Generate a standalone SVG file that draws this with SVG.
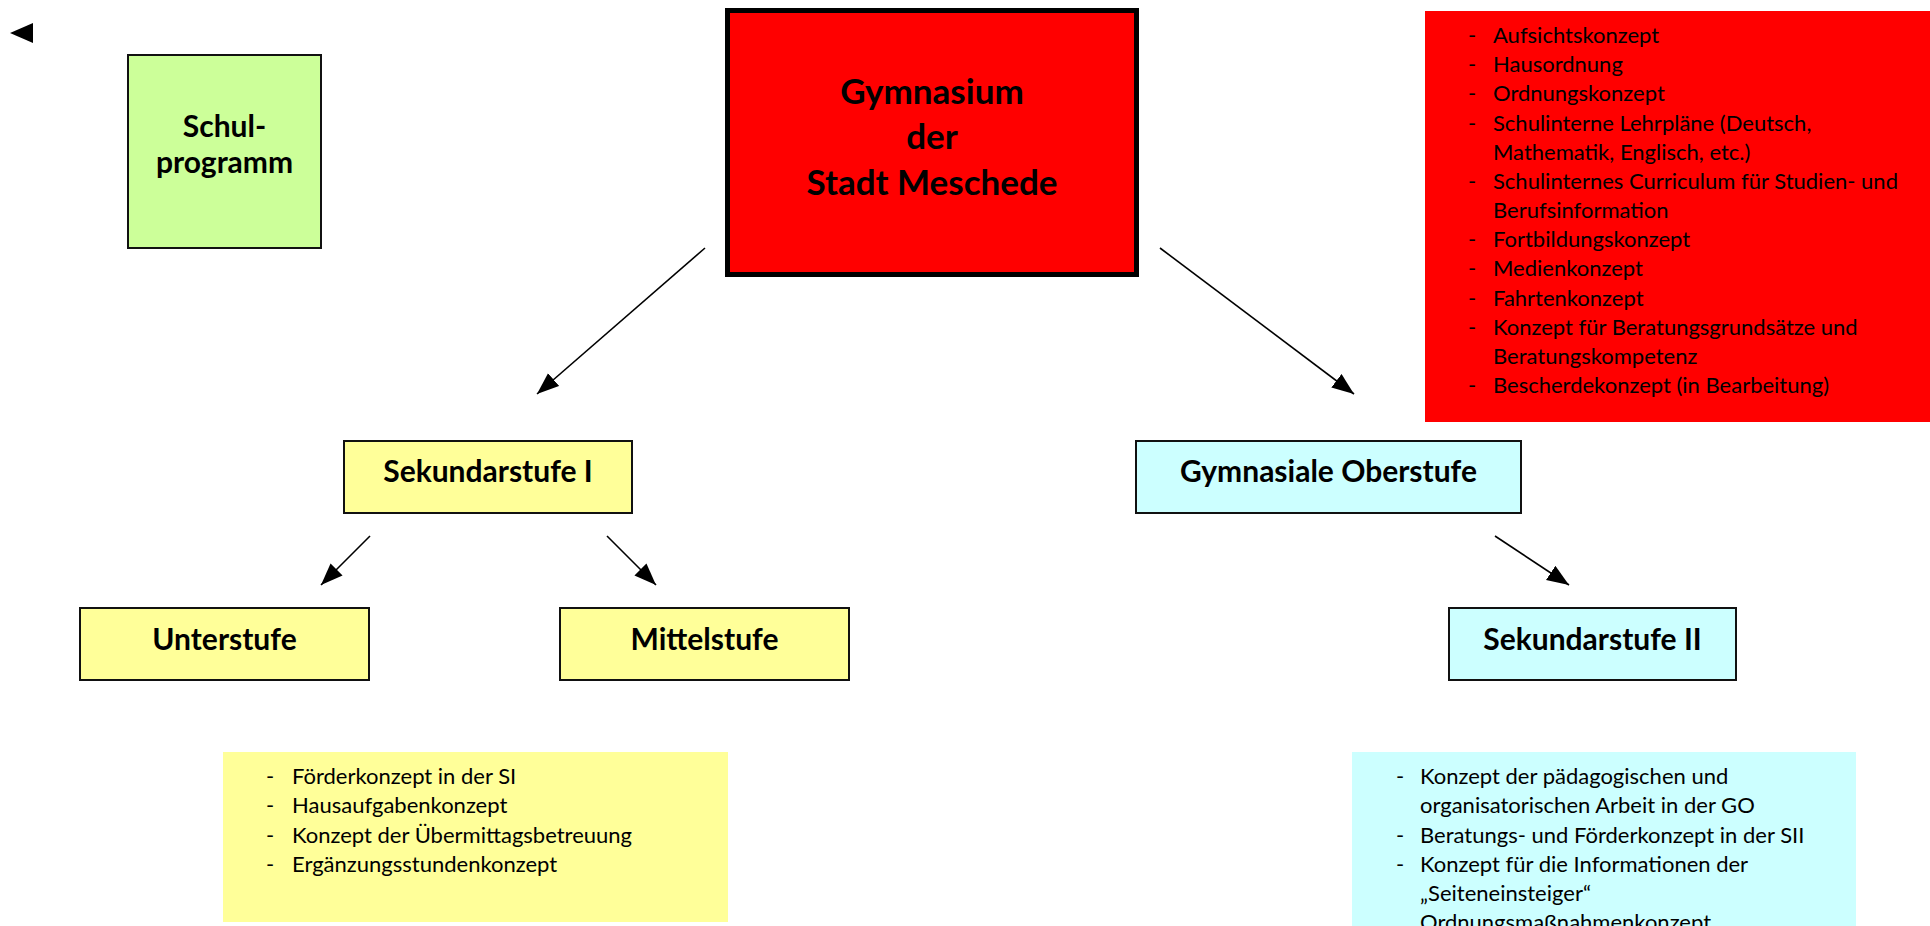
<svg xmlns="http://www.w3.org/2000/svg" width="1930" height="926" viewBox="0 0 1930 926">
<style>
.node{stroke:#111;stroke-width:2}
.b{font-family:Lato,"Liberation Sans",sans-serif;font-weight:bold;fill:#000;text-anchor:middle}
.l{font-family:Lato,"Liberation Sans",sans-serif;font-size:22px;fill:#000}
.conn{stroke:#000;stroke-width:1.6;fill:none;marker-end:url(#ah)}
</style>
<defs>
<marker id="ah" markerUnits="userSpaceOnUse" markerWidth="24" markerHeight="18" refX="22" refY="8.5" orient="auto">
<path d="M0,0 L22,8.5 L0,17 Z" fill="#000"/>
</marker>
</defs>
<rect width="1930" height="926" fill="#fff"/>
<polygon id="back-marker" points="10,33 33,23 33,43" fill="#000"/>

<g id="schulprogramm">
<rect class="node" x="128" y="55" width="193" height="193" fill="#CCFF99"/>
<text class="b" x="224.5" y="137" font-size="30">Schul-</text>
<text class="b" x="224.5" y="173" font-size="30">programm</text>
</g>

<g id="gymnasium">
<rect x="727.5" y="10.5" width="409" height="264" fill="#FF0000" stroke="#000" stroke-width="5"/>
<text class="b" x="932" y="104" font-size="35">Gymnasium</text>
<text class="b" x="932" y="149" font-size="35">der</text>
<text class="b" x="932" y="195" font-size="35">Stadt Meschede</text>
</g>

<g id="konzepte-allgemein">
<rect x="1425" y="11" width="505" height="411" fill="#FF0000"/>
<g class="l">
<text x="1468" y="43">-</text><text x="1493" y="43">Aufsichtskonzept</text>
<text x="1468" y="72">-</text><text x="1493" y="72">Hausordnung</text>
<text x="1468" y="101">-</text><text x="1493" y="101">Ordnungskonzept</text>
<text x="1468" y="131">-</text><text x="1493" y="131">Schulinterne Lehrpläne (Deutsch,</text>
<text x="1493" y="160">Mathematik, Englisch, etc.)</text>
<text x="1468" y="189">-</text><text x="1493" y="189">Schulinternes Curriculum für Studien- und</text>
<text x="1493" y="218">Berufsinformation</text>
<text x="1468" y="247">-</text><text x="1493" y="247">Fortbildungskonzept</text>
<text x="1468" y="276">-</text><text x="1493" y="276">Medienkonzept</text>
<text x="1468" y="306">-</text><text x="1493" y="306">Fahrtenkonzept</text>
<text x="1468" y="335">-</text><text x="1493" y="335">Konzept für Beratungsgrundsätze und</text>
<text x="1493" y="364">Beratungskompetenz</text>
<text x="1468" y="393">-</text><text x="1493" y="393">Bescherdekonzept (in Bearbeitung)</text>
</g>
</g>

<g id="sekundarstufe-1">
<rect class="node" x="344" y="441" width="288" height="72" fill="#FFFF99"/>
<text class="b" x="488" y="482" font-size="30">Sekundarstufe I</text>
</g>

<g id="gymnasiale-oberstufe">
<rect class="node" x="1136" y="441" width="385" height="72" fill="#CCFFFF"/>
<text class="b" x="1328.5" y="482" font-size="30">Gymnasiale Oberstufe</text>
</g>

<g id="unterstufe">
<rect class="node" x="80" y="608" width="289" height="72" fill="#FFFF99"/>
<text class="b" x="224.5" y="650" font-size="30">Unterstufe</text>
</g>

<g id="mittelstufe">
<rect class="node" x="560" y="608" width="289" height="72" fill="#FFFF99"/>
<text class="b" x="704.5" y="650" font-size="30">Mittelstufe</text>
</g>

<g id="sekundarstufe-2">
<rect class="node" x="1449" y="608" width="287" height="72" fill="#CCFFFF"/>
<text class="b" x="1592.5" y="650" font-size="30">Sekundarstufe II</text>
</g>

<g id="konzepte-si">
<rect x="223" y="752" width="505" height="170" fill="#FFFF99"/>
<g class="l">
<text x="266" y="784">-</text><text x="292" y="784">Förderkonzept in der SI</text>
<text x="266" y="813">-</text><text x="292" y="813">Hausaufgabenkonzept</text>
<text x="266" y="843">-</text><text x="292" y="843">Konzept der Übermittagsbetreuung</text>
<text x="266" y="872">-</text><text x="292" y="872">Ergänzungsstundenkonzept</text>
</g>
</g>

<g id="konzepte-sii">
<rect x="1352" y="752" width="504" height="180" fill="#CCFFFF"/>
<g class="l">
<text x="1396" y="784">-</text><text x="1420" y="784">Konzept der pädagogischen und</text>
<text x="1420" y="813">organisatorischen Arbeit in der GO</text>
<text x="1396" y="843">-</text><text x="1420" y="843">Beratungs- und Förderkonzept in der SII</text>
<text x="1396" y="872">-</text><text x="1420" y="872">Konzept für die Informationen der</text>
<text x="1420" y="901">„Seiteneinsteiger“</text>
<text x="1420" y="930">Ordnungsmaßnahmenkonzept</text>
</g>
</g>

<g id="connectors">
<line class="conn" x1="705" y1="248" x2="537" y2="394"/>
<line class="conn" x1="1160" y1="248" x2="1354" y2="394"/>
<line class="conn" x1="370" y1="536" x2="321" y2="585"/>
<line class="conn" x1="607" y1="536" x2="656" y2="585"/>
<line class="conn" x1="1495" y1="536" x2="1569" y2="585"/>
</g>
</svg>
